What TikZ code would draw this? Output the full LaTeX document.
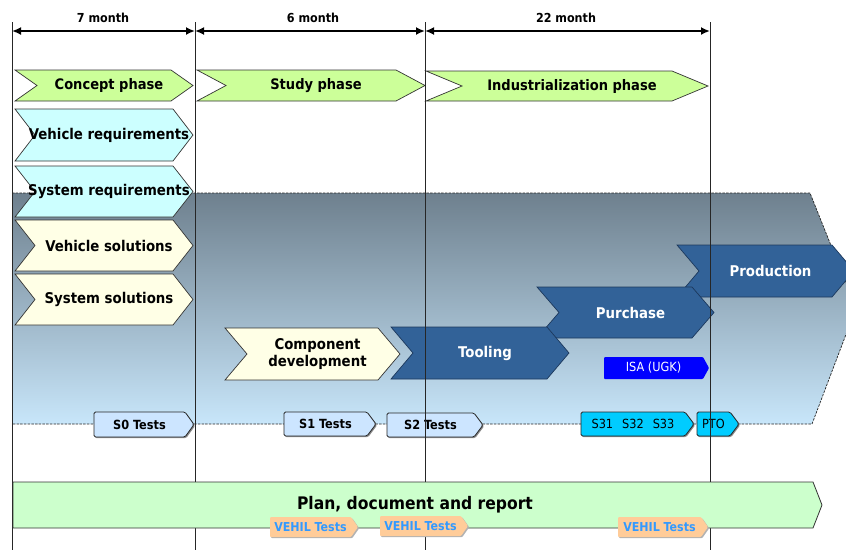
\documentclass[tikz,border=0pt]{standalone}
\usepackage{fontspec}
\setmainfont{DejaVu Sans Condensed}
\usetikzlibrary{shadows,arrows.meta}
\definecolor{phasegreen}{RGB}{204,255,153}
\definecolor{reqcyan}{RGB}{204,255,255}
\definecolor{cream}{RGB}{255,255,230}
\definecolor{steel}{RGB}{50,98,152}
\definecolor{steeldark}{RGB}{28,56,92}
\definecolor{testblue}{RGB}{204,229,255}
\definecolor{scyan}{RGB}{0,204,255}
\definecolor{plangreen}{RGB}{204,255,204}
\definecolor{peach}{RGB}{255,204,153}
\definecolor{vehilblue}{RGB}{51,153,255}
\definecolor{gradtop}{RGB}{110,128,142}
\definecolor{gradbot}{RGB}{200,230,250}

% name, style base, x1, x2 (tip), ytop, ybot, depth, text
\newcommand\chevbox[8]{%
  \draw[#2shape] (#3,#5) -- ({#4-#7},#5) -- (#4,{(#5+#6)/2}) -- ({#4-#7},#6) -- (#3,#6) -- ({#3+#7},{(#5+#6)/2}) -- cycle;
  \node[#2text] (#1) at ({(#3+#4)/2+5},{(#5+#6)/2}) {#8};}
% name, style base, x1, x2 (tip), ytop, ybot, depth, text
\newcommand\tagbox[8]{%
  \draw[#2shape] (#3,#5) -- ({#4-#7},#5) -- (#4,{(#5+#6)/2}) -- ({#4-#7},#6) -- (#3,#6) -- cycle;
  \node[#2text] (#1) at ({(#3+#4-#7)/2},{(#5+#6)/2}) {#8};}

\begin{document}
\begin{tikzpicture}[x=1pt,y=-1pt,line join=miter,
  phaseshape/.style={draw=black!80,line width=0.7pt,fill=phasegreen},
  phasetext/.style={font=\fontsize{14.5}{16}\selectfont\bfseries,text=black},
  reqshape/.style={draw=black!80,line width=0.7pt,fill=reqcyan},
  reqtext/.style={font=\fontsize{14.8}{16}\selectfont\bfseries,text=black},
  solshape/.style={draw=black!80,line width=0.7pt,fill=cream},
  soltext/.style={font=\fontsize{14.8}{17}\selectfont\bfseries,text=black,align=center},
  blueshape/.style={draw=steeldark,line width=0.7pt,fill=steel},
  bluetext/.style={font=\fontsize{14.8}{16}\selectfont\bfseries,text=white},
  testshape/.style={draw=black!85,line width=0.8pt,fill=testblue,rounded corners=1.5pt,
    drop shadow={shadow xshift=1.2pt,shadow yshift=-1.2pt,fill=black!45,opacity=1}},
  testtext/.style={font=\fontsize{12.6}{14}\selectfont\bfseries,text=black},
  cyanshape/.style={draw=black!85,line width=0.8pt,fill=scyan,rounded corners=1.5pt,
    drop shadow={shadow xshift=1.2pt,shadow yshift=-1.2pt,fill=black!45,opacity=1}},
  cyantext/.style={font=\fontsize{12.6}{14}\selectfont,text=black},
  isashape/.style={draw=none,fill=blue,rounded corners=1pt},
  isatext/.style={font=\fontsize{12.6}{14}\selectfont,text=white},
  planshape/.style={draw=black!80,line width=0.8pt,fill=plangreen},
  plantext/.style={font=\fontsize{17.3}{19}\selectfont\bfseries,text=black},
  vehilshape/.style={draw=none,fill=peach,rounded corners=1pt,
    drop shadow={shadow xshift=1.2pt,shadow yshift=-1.2pt,fill=black!30,opacity=1}},
  vehiltext/.style={font=\fontsize{12.3}{13}\selectfont\bfseries,text=vehilblue},
  dimtext/.style={font=\fontsize{12.4}{14}\selectfont\bfseries,text=black},
  dimarrow/.style={line width=2.2pt,{Latex[length=9pt,width=8pt]}-{Latex[length=9pt,width=8pt]}},
  vline/.style={line width=0.8pt,draw=black!85},
  dashline/.style={line width=0.7pt,dash pattern=on 2.5pt off 1.2pt,draw=black!85}]
\useasboundingbox (0,0) rectangle (846,550);

% background arrow with gradient
\begin{scope}
  \clip (0,0) rectangle (846,550);
  \shade[top color=gradtop,bottom color=gradbot] (12,193) -- (810,193) -- (856,308) -- (812,424) -- (12,424) -- cycle;
  \draw[dashline] (12,193) -- (810,193) -- (856,308) -- (812,424) -- (12,424);
  \chevbox{production}{blue}{677}{854}{245}{297}{22}{Production}
\end{scope}

% phases
\chevbox{concept}{phase}{15}{193}{70}{101}{22}{Concept phase}
\chevbox{study}{phase}{197}{425}{70}{101}{29}{Study phase}
\chevbox{indus}{phase}{426}{708}{71}{101}{36}{Industrialization phase}

% requirements and solutions
\chevbox{vreq}{req}{15}{193}{109}{161}{20}{Vehicle requirements}
\chevbox{sreq}{req}{15}{193}{166}{217}{20}{System requirements}
\chevbox{vsol}{sol}{15}{193}{220}{271}{20}{Vehicle solutions}
\chevbox{ssol}{sol}{15}{193}{274}{325}{20}{System solutions}

% development chain
\chevbox{comp}{sol}{225}{400}{328}{380}{22}{Component\\development}
\chevbox{purchase}{blue}{537}{714}{287}{338}{22}{Purchase}
\chevbox{tooling}{blue}{391}{569}{327}{379}{22}{Tooling}
\tagbox{isa}{isa}{604}{709}{357}{379}{6}{ISA (UGK)}

% tests
\tagbox{s0}{test}{94}{194}{412}{437}{9}{S0 Tests}
\tagbox{s1}{test}{284}{376}{412}{436}{9}{S1 Tests}
\tagbox{s2}{test}{387}{483}{413}{437}{9}{S2 Tests}
\tagbox{s3}{cyan}{581}{694}{412}{436}{9}{S31\hspace{9pt}S32\hspace{9pt}S33}
\tagbox{pto}{cyan}{697}{739}{412}{436}{9}{PTO}

% time grid
\coordinate (t0) at (12,31);
\coordinate (t1) at (195,31);
\coordinate (t2) at (425,31);
\coordinate (t3) at (710,31);
\foreach \c/\n in {t0/b0,t1/b1,t2/b2,t3/b3}{
  \coordinate (\n) at (\c |- 0,550);
  \draw[vline] (\c) ++(0,-9) -- (\n);
}
\draw[dimarrow] (t0) -- (t1);
\draw[dimarrow] (t1) -- (t2);
\draw[dimarrow] (t2) -- (t3);
\node[dimtext] (m7) at (103,18) {7 month};
\node[dimtext] (m6) at (313,18) {6 month};
\node[dimtext] (m22) at (566,18) {22 month};

% plan
\tagbox{plan}{plan}{13}{822}{482}{528}{9}{}
\node[plantext] (plantxt) at (415,505) {Plan, document and report};
\tagbox{vehil1}{vehil}{270}{358}{517}{537}{7}{VEHIL Tests}
\tagbox{vehil2}{vehil}{380}{468}{516}{536}{7}{VEHIL Tests}
\tagbox{vehil3}{vehil}{618}{708}{517}{537}{7}{VEHIL Tests}
\end{tikzpicture}
\end{document}
